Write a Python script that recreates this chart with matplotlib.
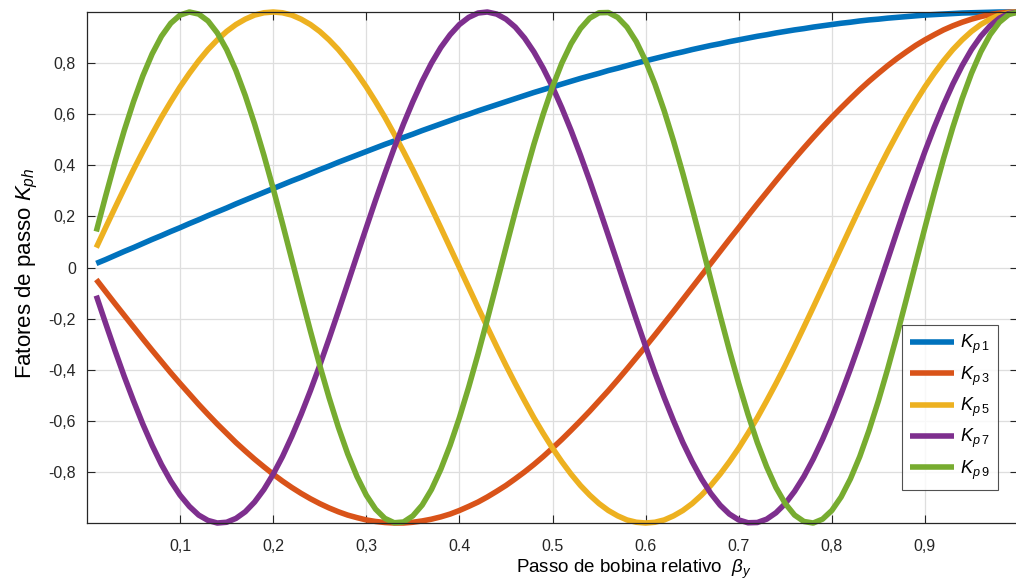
import matplotlib
matplotlib.use("Agg")
import matplotlib.pyplot as plt

plt.rcParams['font.family'] = ['Liberation Sans', 'DejaVu Sans']
plt.rcParams['mathtext.fontset'] = 'custom'
plt.rcParams['mathtext.rm'] = 'Liberation Sans'
plt.rcParams['mathtext.it'] = 'Liberation Sans:italic'

# Passo de bobina relativo (beta_y)
beta = [0.01, 0.02, 0.03, 0.04, 0.05, 0.06, 0.07, 0.08, 0.09, 0.10,
        0.11, 0.12, 0.13, 0.14, 0.15, 0.16, 0.17, 0.18, 0.19, 0.20,
        0.21, 0.22, 0.23, 0.24, 0.25, 0.26, 0.27, 0.28, 0.29, 0.30,
        0.31, 0.32, 0.33, 0.34, 0.35, 0.36, 0.37, 0.38, 0.39, 0.40,
        0.41, 0.42, 0.43, 0.44, 0.45, 0.46, 0.47, 0.48, 0.49, 0.50,
        0.51, 0.52, 0.53, 0.54, 0.55, 0.56, 0.57, 0.58, 0.59, 0.60,
        0.61, 0.62, 0.63, 0.64, 0.65, 0.66, 0.67, 0.68, 0.69, 0.70,
        0.71, 0.72, 0.73, 0.74, 0.75, 0.76, 0.77, 0.78, 0.79, 0.80,
        0.81, 0.82, 0.83, 0.84, 0.85, 0.86, 0.87, 0.88, 0.89, 0.90,
        0.91, 0.92, 0.93, 0.94, 0.95, 0.96, 0.97, 0.98, 0.99, 1.00]

# Fatores de passo
kp1 = [0.016, 0.031, 0.047, 0.063, 0.078, 0.094, 0.110, 0.125, 0.141, 0.156,
       0.172, 0.187, 0.203, 0.218, 0.233, 0.249, 0.264, 0.279, 0.294, 0.309,
       0.324, 0.339, 0.353, 0.368, 0.383, 0.397, 0.412, 0.426, 0.440, 0.454,
       0.468, 0.482, 0.495, 0.509, 0.522, 0.536, 0.549, 0.562, 0.575, 0.588,
       0.600, 0.613, 0.625, 0.637, 0.649, 0.661, 0.673, 0.685, 0.696, 0.707,
       0.718, 0.729, 0.740, 0.750, 0.760, 0.771, 0.780, 0.790, 0.800, 0.809,
       0.818, 0.827, 0.836, 0.844, 0.853, 0.861, 0.869, 0.876, 0.884, 0.891,
       0.898, 0.905, 0.911, 0.918, 0.924, 0.930, 0.935, 0.941, 0.946, 0.951,
       0.956, 0.960, 0.965, 0.969, 0.972, 0.976, 0.979, 0.982, 0.985, 0.988,
       0.990, 0.992, 0.994, 0.996, 0.997, 0.998, 0.999, 1.000, 1.000, 1.000]
kp3 = [-0.047, -0.094, -0.141, -0.187, -0.233, -0.279, -0.324, -0.368, -0.412, -0.454,
       -0.495, -0.536, -0.575, -0.613, -0.649, -0.685, -0.718, -0.750, -0.780, -0.809,
       -0.836, -0.861, -0.884, -0.905, -0.924, -0.941, -0.956, -0.969, -0.979, -0.988,
       -0.994, -0.998, -1.000, -1.000, -0.997, -0.992, -0.985, -0.976, -0.965, -0.951,
       -0.935, -0.918, -0.898, -0.876, -0.853, -0.827, -0.800, -0.771, -0.740, -0.707,
       -0.673, -0.637, -0.600, -0.562, -0.522, -0.482, -0.440, -0.397, -0.353, -0.309,
       -0.264, -0.218, -0.172, -0.125, -0.078, -0.031, 0.016, 0.063, 0.110, 0.156,
       0.203, 0.249, 0.294, 0.339, 0.383, 0.426, 0.468, 0.509, 0.549, 0.588,
       0.625, 0.661, 0.696, 0.729, 0.760, 0.790, 0.818, 0.844, 0.869, 0.891,
       0.911, 0.930, 0.946, 0.960, 0.972, 0.982, 0.990, 0.996, 0.999, 1.000]
kp5 = [0.078, 0.156, 0.233, 0.309, 0.383, 0.454, 0.522, 0.588, 0.649, 0.707,
       0.760, 0.809, 0.853, 0.891, 0.924, 0.951, 0.972, 0.988, 0.997, 1.000,
       0.997, 0.988, 0.972, 0.951, 0.924, 0.891, 0.853, 0.809, 0.760, 0.707,
       0.649, 0.588, 0.522, 0.454, 0.383, 0.309, 0.233, 0.156, 0.078, 0.000,
       -0.078, -0.156, -0.233, -0.309, -0.383, -0.454, -0.522, -0.588, -0.649, -0.707,
       -0.760, -0.809, -0.853, -0.891, -0.924, -0.951, -0.972, -0.988, -0.997, -1.000,
       -0.997, -0.988, -0.972, -0.951, -0.924, -0.891, -0.853, -0.809, -0.760, -0.707,
       -0.649, -0.588, -0.522, -0.454, -0.383, -0.309, -0.233, -0.156, -0.078, 0.000,
       0.078, 0.156, 0.233, 0.309, 0.383, 0.454, 0.522, 0.588, 0.649, 0.707,
       0.760, 0.809, 0.853, 0.891, 0.924, 0.951, 0.972, 0.988, 0.997, 1.000]
kp7 = [-0.110, -0.218, -0.324, -0.426, -0.522, -0.613, -0.696, -0.771, -0.836, -0.891,
       -0.935, -0.969, -0.990, -1.000, -0.997, -0.982, -0.956, -0.918, -0.869, -0.809,
       -0.740, -0.661, -0.575, -0.482, -0.383, -0.279, -0.172, -0.063, 0.047, 0.156,
       0.264, 0.368, 0.468, 0.562, 0.649, 0.729, 0.800, 0.861, 0.911, 0.951,
       0.979, 0.996, 1.000, 0.992, 0.972, 0.941, 0.898, 0.844, 0.780, 0.707,
       0.625, 0.536, 0.440, 0.339, 0.233, 0.125, 0.016, -0.094, -0.203, -0.309,
       -0.412, -0.509, -0.600, -0.685, -0.760, -0.827, -0.884, -0.930, -0.965, -0.988,
       -0.999, -0.998, -0.985, -0.960, -0.924, -0.876, -0.818, -0.750, -0.673, -0.588,
       -0.495, -0.397, -0.294, -0.187, -0.078, 0.031, 0.141, 0.249, 0.353, 0.454,
       0.549, 0.637, 0.718, 0.790, 0.853, 0.905, 0.946, 0.976, 0.994, 1.000]
kp9 = [0.141, 0.279, 0.412, 0.536, 0.649, 0.750, 0.836, 0.905, 0.956, 0.988,
       1.000, 0.992, 0.965, 0.918, 0.853, 0.771, 0.673, 0.562, 0.440, 0.309,
       0.172, 0.031, -0.110, -0.249, -0.383, -0.509, -0.625, -0.729, -0.818, -0.891,
       -0.946, -0.982, -0.999, -0.996, -0.972, -0.930, -0.869, -0.790, -0.696, -0.588,
       -0.468, -0.339, -0.203, -0.063, 0.078, 0.218, 0.353, 0.482, 0.600, 0.707,
       0.800, 0.876, 0.935, 0.976, 0.997, 0.998, 0.979, 0.941, 0.884, 0.809,
       0.718, 0.613, 0.495, 0.368, 0.233, 0.094, -0.047, -0.187, -0.324, -0.454,
       -0.575, -0.685, -0.780, -0.861, -0.924, -0.969, -0.994, -1.000, -0.985, -0.951,
       -0.898, -0.827, -0.740, -0.637, -0.522, -0.397, -0.264, -0.125, 0.016, 0.156,
       0.294, 0.426, 0.549, 0.661, 0.760, 0.844, 0.911, 0.960, 0.990, 1.000]

series = [kp1, kp3, kp5, kp7, kp9]
nomes = [r'$K_{p\;\mathit{1}}$', r'$K_{p\;\mathit{3}}$', r'$K_{p\;\mathit{5}}$',
         r'$K_{p\;\mathit{7}}$', r'$K_{p\;\mathit{9}}$']
cores = ['#0072BD', '#D95319', '#EDB120', '#7E2F8E', '#77AC30']

xticks = [0.1, 0.2, 0.3, 0.4, 0.5, 0.6, 0.7, 0.8, 0.9]
xlabels = ['0,1', '0,2', '0,3', '0.4', '0.5', '0.6', '0.7', '0,8', '0,9']
yticks = [-0.8, -0.6, -0.4, -0.2, 0, 0.2, 0.4, 0.6, 0.8]
ylabels = ['-0,8', '-0,6', '-0,4', '-0,2', '0', '0,2', '0,4', '0,6', '0,8']

fig = plt.figure(figsize=(10.16, 5.83), dpi=100)
ax = fig.add_axes([0.0856, 0.1029, 0.9164, 0.8765])

for ys, nome, cor in zip(series, nomes, cores):
    ax.plot(beta, ys, color=cor, lw=4, label=nome, clip_on=False,
            solid_joinstyle='round', solid_capstyle='butt')

ax.set_xlim(0, 1)
ax.set_ylim(-1, 1)
ax.set_xticks(xticks)
ax.set_xticklabels(xlabels)
ax.set_yticks(yticks)
ax.set_yticklabels(ylabels)
ax.tick_params(direction='in', length=6, width=0.8, top=True, right=True,
               labelsize=11.5, colors='#262626')
ax.tick_params(axis='x', pad=11.5)
ax.tick_params(axis='y', pad=8)
ax.grid(True, color='#dedede', lw=0.9)
ax.set_axisbelow(True)
for s in ax.spines.values():
    s.set_color('#262626')
    s.set_linewidth(0.9)

ax.set_xlabel(r'Passo de bobina relativo  $\beta_y$', fontsize=13.5, labelpad=3,
              x=0.5875)
ax.set_ylabel(r'Fatores de passo $K_{ph}$', fontsize=16, labelpad=6, y=0.489)

leg = ax.legend(loc='lower right', bbox_to_anchor=(0.979, 0.065), fontsize=13,
                frameon=True, fancybox=False, edgecolor='#262626',
                handlelength=2.4, handletextpad=0.35, labelspacing=0.45,
                borderpad=0.45, borderaxespad=0)
leg.get_frame().set_linewidth(0.8)

fig.savefig('out.png', dpi=100)
